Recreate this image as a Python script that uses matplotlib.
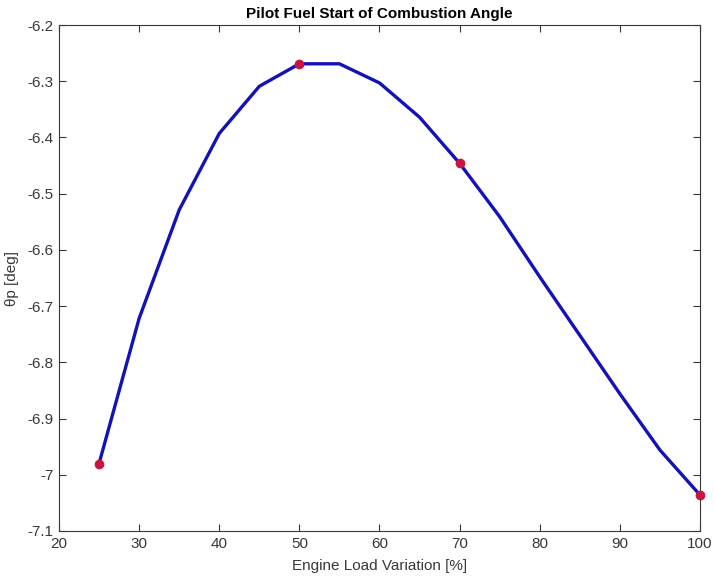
import matplotlib
matplotlib.use("Agg")
import matplotlib.pyplot as plt

# Engine load (%) and pilot fuel start-of-combustion angle (deg)
load_pct = [25, 30, 35, 40, 45, 50, 55, 60, 65, 70, 75, 80, 85, 90, 95, 100]
theta_p = [-6.980, -6.722, -6.529, -6.393, -6.309, -6.269, -6.269, -6.303,
           -6.364, -6.446, -6.541, -6.648, -6.752, -6.856, -6.956, -7.036]

# Operating points highlighted with markers
marked_load = [25, 50, 70, 100]
marked_theta = [-6.980, -6.269, -6.446, -7.036]

x_ticks = [20, 30, 40, 50, 60, 70, 80, 90, 100]
y_ticks = [-7.1, -7.0, -6.9, -6.8, -6.7, -6.6, -6.5, -6.4, -6.3, -6.2]
y_tick_labels = ["-7.1", "-7", "-6.9", "-6.8", "-6.7", "-6.6", "-6.5", "-6.4", "-6.3", "-6.2"]

plt.rcParams["font.family"] = ["Liberation Sans", "DejaVu Sans"]

axis_grey = (0.22, 0.22, 0.22)
fig = plt.figure(figsize=(7.14, 5.83), dpi=100)
ax = fig.add_axes([0.0826, 0.0892, 0.8978, 0.8679])

ax.plot(load_pct, theta_p, color=(0.07, 0.07, 0.72), linewidth=2.4, zorder=2)
ax.plot(marked_load, marked_theta, linestyle="none", marker="o", markersize=6,
        markerfacecolor=(0.80, 0.08, 0.25), markeredgecolor=(0.80, 0.08, 0.25),
        zorder=3, clip_on=False)

ax.set_xlim(20, 100)
ax.set_ylim(-7.1, -6.2)
ax.set_xticks(x_ticks)
ax.set_yticks(y_ticks)
ax.set_yticklabels(y_tick_labels)

ax.tick_params(direction="in", top=True, right=True, length=5, width=0.8,
               colors=axis_grey, labelsize=11, pad=4)
for spine in ax.spines.values():
    spine.set_color(axis_grey)
    spine.set_linewidth(0.8)

ax.set_title("Pilot Fuel Start of Combustion Angle", fontsize=11,
             fontweight="bold", color="black", pad=5)
ax.set_xlabel("Engine Load Variation [%]", fontsize=11, color=axis_grey, labelpad=6)
ax.set_ylabel("θp [deg]", fontsize=11, color=axis_grey, labelpad=6)

fig.savefig("out.png", dpi=100, facecolor="white")
